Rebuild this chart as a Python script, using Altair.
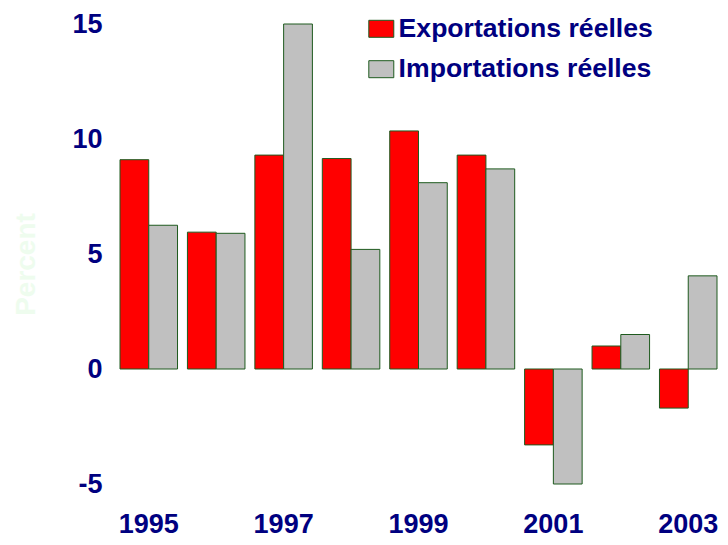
import altair as alt
import pandas as pd

years = ["1995", "1996", "1997", "1998", "1999", "2000", "2001", "2002", "2003"]
exports = [9.1, 5.95, 9.3, 9.15, 10.35, 9.3, -3.3, 1.0, -1.7]
imports = [6.25, 5.9, 15.0, 5.2, 8.1, 8.7, -5.0, 1.5, 4.05]
series = ["Exportations réelles", "Importations réelles"]
colors = ["#ff0000", "#c0c0c0"]
tick_years = ["1995", "1997", "1999", "2001", "2003"]

rows = []
for i, y in enumerate(years):
    rows.append({"year": y, "series": series[0], "value": exports[i]})
    rows.append({"year": y, "series": series[1], "value": imports[i]})
df = pd.DataFrame(rows)

FONT = "Liberation Sans"
NAVY = "#000080"
EDGE = "#1e5a1e"

chart = alt.Chart(df).mark_bar(stroke=EDGE, strokeWidth=1).encode(
    x=alt.X("year:N", sort=years,
            scale=alt.Scale(paddingInner=0.147, paddingOuter=0),
            axis=alt.Axis(values=tick_years, title=None, labelAngle=0,
                          domain=False, ticks=False, labelPadding=4,
                          labelFont=FONT, labelFontSize=27, labelFontWeight="bold",
                          labelColor=NAVY)),
    xOffset=alt.XOffset("series:N", sort=series),
    y=alt.Y("value:Q", scale=alt.Scale(domain=[-6, 15], nice=False),
            axis=alt.Axis(values=[-5, 0, 5, 10, 15], title="Percent", grid=False,
                          domain=False, ticks=False, labelPadding=18,
                          labelExpr="datum.value < 0 ? '-' + abs(datum.value) : datum.label",
                          labelFont=FONT, labelFontSize=27, labelFontWeight="bold",
                          labelColor=NAVY, titleFont=FONT, titleFontSize=28,
                          titleFontWeight="bold", titleColor="#eefcee",
                          titleX=-80, titleY=240)),
    color=alt.Color("series:N", sort=series,
                    scale=alt.Scale(domain=series, range=colors),
                    legend=alt.Legend(title=None, orient="none", legendX=248, legendY=-8.5,
                                      symbolType="M-1.47,-1L1.47,-1L1.47,1L-1.47,1Z",
                                      symbolSize=289, symbolStrokeColor=EDGE,
                                      symbolStrokeWidth=1, symbolOpacity=1,
                                      labelFont=FONT, labelFontSize=26.6,
                                      labelFontWeight="bold", labelColor=NAVY,
                                      labelOffset=4, labelLimit=400, rowPadding=13.4)),
).properties(
    width=597, height=483,
    autosize=alt.AutoSizeParams(type="none"),
    padding={"left": 112, "top": 16, "right": 3, "bottom": 30},
).configure_view(stroke=None)

chart.save("out.html", embed_options={"renderer": "svg", "actions": False})
